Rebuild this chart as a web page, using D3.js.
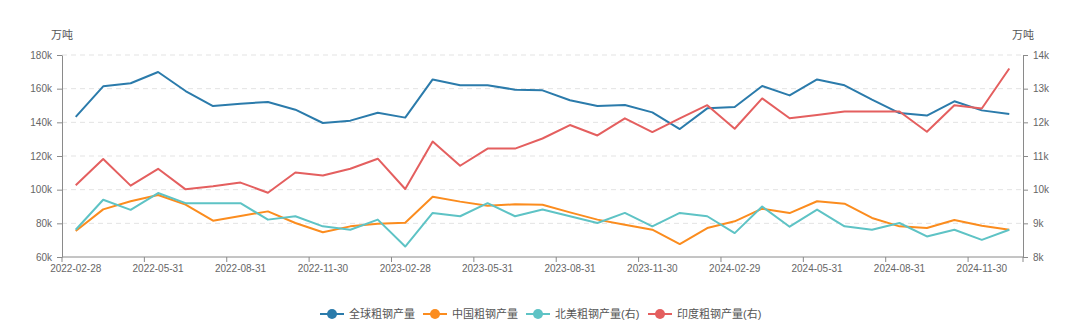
<!DOCTYPE html>
<html><head><meta charset="utf-8">
<script src="https://cdn.jsdelivr.net/npm/d3@7/dist/d3.min.js"></script>
<style>
body{margin:0;background:#fff;}
svg{display:block;}
text{font-family:"Liberation Sans","Noto Sans CJK SC",sans-serif;}
</style></head><body>
<svg id="c" width="1080" height="329"></svg>
<script>
const categories = ["2022-02-28","2022-03-31","2022-04-30","2022-05-31","2022-06-30","2022-07-31","2022-08-31","2022-09-30","2022-10-31","2022-11-30","2022-12-31","2023-01-31","2023-02-28","2023-03-31","2023-04-30","2023-05-31","2023-06-30","2023-07-31","2023-08-31","2023-09-30","2023-10-31","2023-11-30","2023-12-31","2024-01-31","2024-02-29","2024-03-31","2024-04-30","2024-05-31","2024-06-30","2024-07-31","2024-08-31","2024-09-30","2024-10-31","2024-11-30","2024-12-31"];
const globalSteel = [143.2,161.4,163.2,169.9,158.6,149.7,151.1,152.1,147.5,139.6,141.0,145.7,142.8,165.5,162.0,162.0,159.4,159.0,153.1,149.7,150.3,145.9,136.0,148.3,149.1,161.6,156.0,165.5,162.0,153.5,145.5,144.0,152.5,147.1,145.0];
const chinaSteel = [75.4,88.3,93.1,96.8,91.1,81.6,84.4,87.1,80.2,74.7,78.2,79.8,80.4,95.8,92.9,90.5,91.3,91.0,86.5,82.2,79.2,76.2,67.7,77.2,81.2,88.7,86.1,93.1,91.7,83.2,78.2,77.2,82.0,78.6,76.2];
const naSteel = [8.81,9.70,9.40,9.90,9.60,9.60,9.60,9.11,9.21,8.91,8.81,9.11,8.31,9.31,9.21,9.60,9.21,9.41,9.21,9.01,9.31,8.91,9.31,9.21,8.71,9.50,8.90,9.41,8.91,8.81,9.01,8.61,8.81,8.51,8.81];
const indiaSteel = [10.13,10.91,10.12,10.62,10.01,10.10,10.21,9.91,10.51,10.42,10.62,10.92,10.02,11.43,10.71,11.22,11.22,11.52,11.92,11.61,12.12,11.71,12.12,12.51,11.81,12.71,12.12,12.22,12.32,12.32,12.32,11.72,12.51,12.41,13.60];
const leftTicks = [60,80,100,120,140,160,180];
const rightTicks = [8,9,10,11,12,13,14];
const seriesNames = ["全球粗钢产量","中国粗钢产量","北美粗钢产量(右)","印度粗钢产量(右)"];
const colors = ["#2b7bab","#fb8c1e","#5ec3c5","#e45f5f"];

const svg = d3.select("#c");
const L = 62, R = 1023, T = 55, B = 257;
const x = d3.scaleBand().domain(categories).range([L, R]);
const yL = d3.scaleLinear().domain([60,180]).range([B, T]);
const yR = d3.scaleLinear().domain([8,14]).range([B, T]);

// grid
svg.append("g").selectAll("line").data(leftTicks.slice(1)).join("line")
  .attr("x1", L).attr("x2", R).attr("y1", d=>yL(d)).attr("y2", d=>yL(d))
  .attr("stroke","#e3e3e3").attr("stroke-dasharray","5,4").attr("stroke-width",1);

const axisColor = "#8a8a8a", labelColor = "#666";
function styleAxis(g){
  g.select(".domain").attr("stroke", axisColor);
  g.selectAll(".tick line").attr("stroke", axisColor);
  g.selectAll(".tick text").attr("fill", labelColor).style("font-size","10px");
}
// left axis
svg.append("g").attr("transform",`translate(${L},0)`)
  .call(d3.axisLeft(yL).tickValues(leftTicks).tickFormat(d=>d+"k").tickSize(5).tickSizeOuter(0).tickPadding(5))
  .call(styleAxis);
// right axis
svg.append("g").attr("transform",`translate(${R},0)`)
  .call(d3.axisRight(yR).tickValues(rightTicks).tickFormat(d=>d+"k").tickSize(5).tickSizeOuter(0).tickPadding(5))
  .call(styleAxis);
// bottom axis: ticks at band boundaries, labels at band centers every 3rd
const bx = svg.append("g").attr("transform",`translate(0,${B})`);
bx.append("line").attr("x1",L).attr("x2",R).attr("stroke",axisColor);
const labeled = categories.filter((d,i)=>i%3===0);
bx.selectAll("line.tk").data(labeled).join("line").attr("class","tk")
  .attr("x1",d=>x(d)).attr("x2",d=>x(d)).attr("y1",0).attr("y2",5).attr("stroke",axisColor);
bx.append("line").attr("x1",R).attr("x2",R).attr("y1",0).attr("y2",5).attr("stroke",axisColor);
bx.selectAll("text").data(labeled).join("text")
  .attr("x",d=>x(d)+x.bandwidth()/2).attr("y",15).attr("text-anchor","middle")
  .attr("fill",labelColor).style("font-size","10px").text(d=>d);

// axis names
svg.append("text").attr("x",L).attr("y",39).attr("text-anchor","middle").attr("fill","#555").style("font-size","11px").text("万吨");
svg.append("text").attr("x",R).attr("y",39).attr("text-anchor","middle").attr("fill","#555").style("font-size","11px").text("万吨");

const cx = d=>x(d)+x.bandwidth()/2;
function drawLine(vals, yScale, color){
  const line = d3.line().x((v,i)=>cx(categories[i])).y(v=>yScale(v));
  svg.append("path").datum(vals).attr("d",line).attr("fill","none")
    .attr("stroke",color).attr("stroke-width",2).attr("stroke-linejoin","round");
}
drawLine(globalSteel, yL, colors[0]);
drawLine(chinaSteel, yL, colors[1]);
drawLine(naSteel, yR, colors[2]);
drawLine(indiaSteel, yR, colors[3]);

// legend
const legendX = [332, 435, 538, 660];
const lg = svg.append("g");
seriesNames.forEach((n,i)=>{
  const g = lg.append("g").attr("transform",`translate(${legendX[i]},314)`);
  g.append("line").attr("x1",-12).attr("x2",12).attr("stroke",colors[i]).attr("stroke-width",2);
  g.append("circle").attr("r",5).attr("fill",colors[i]);
  g.append("text").attr("x",17).attr("y",4).attr("fill","#555").style("font-size","11px").text(n);
});
</script>
</body></html>
